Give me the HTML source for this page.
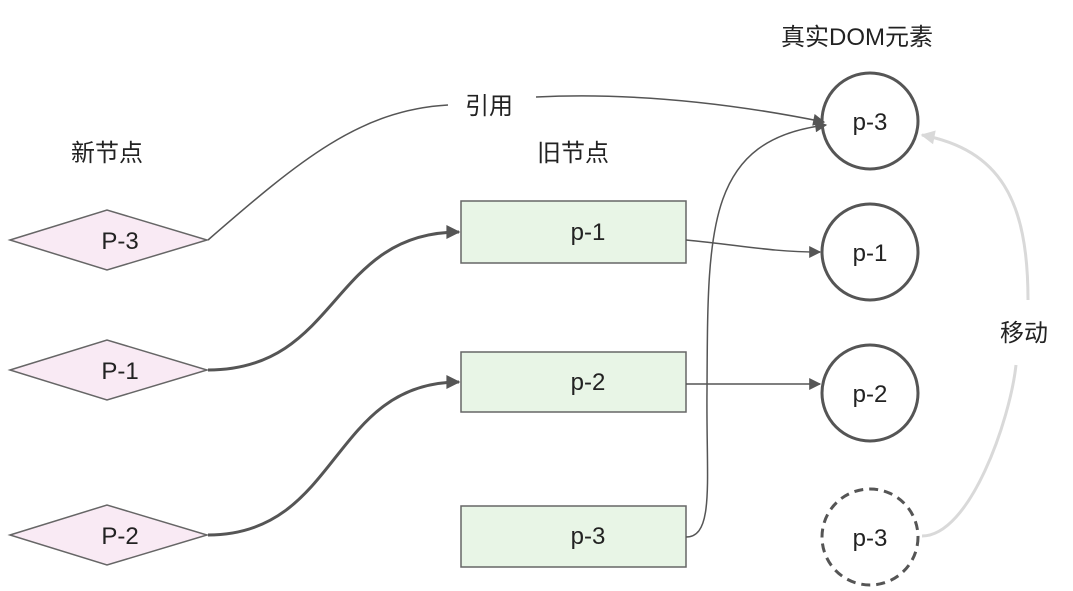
<!DOCTYPE html>
<html><head><meta charset="utf-8"><style>
html,body{margin:0;padding:0;background:#fff;}
svg{display:block;}
text{font-family:"Liberation Sans","Noto Sans CJK SC",sans-serif;fill:#222;}
</style></head><body>
<svg width="1073" height="591" viewBox="0 0 1073 591" xmlns="http://www.w3.org/2000/svg">
<defs>
<marker id="a" viewBox="0 0 10 10" refX="9" refY="5" markerWidth="14" markerHeight="12" markerUnits="userSpaceOnUse" orient="auto"><path d="M0,0L10,5L0,10z" fill="#555"/></marker>
<marker id="ab" viewBox="0 0 10 10" refX="9" refY="5" markerWidth="16" markerHeight="14" markerUnits="userSpaceOnUse" orient="auto"><path d="M0,0L10,5L0,10z" fill="#555"/></marker>
<marker id="ag" viewBox="0 0 10 10" refX="9" refY="5" markerWidth="16" markerHeight="14" markerUnits="userSpaceOnUse" orient="auto"><path d="M0,0L10,5L0,10z" fill="#d9d9d9"/></marker>
</defs>
<g font-size="24">
<text x="857" y="45" text-anchor="middle">真实DOM元素</text>
<text x="107" y="161" text-anchor="middle">新节点</text>
<text x="573" y="161" text-anchor="middle">旧节点</text>
<text x="1024" y="341" text-anchor="middle">移动</text>
<text x="489" y="114" text-anchor="middle">引用</text>
</g>
<!-- diamonds -->
<g fill="#f9eaf4" stroke="#666" stroke-width="1.5">
<polygon points="10,240 107,210 207,240 107,270"/>
<polygon points="10,370 107,340 207,370 107,400"/>
<polygon points="10,535 107,505 207,535 107,565"/>
</g>
<g font-size="24" text-anchor="middle">
<text x="120" y="249">P-3</text>
<text x="120" y="379">P-1</text>
<text x="120" y="544">P-2</text>
</g>
<!-- rects -->
<g fill="#e8f5e6" stroke="#666" stroke-width="1.5">
<rect x="461" y="201" width="225" height="62"/>
<rect x="461" y="352" width="225" height="60"/>
<rect x="461" y="506" width="225" height="61"/>
</g>
<g font-size="24" text-anchor="middle">
<text x="588" y="240">p-1</text>
<text x="588" y="390">p-2</text>
<text x="588" y="544">p-3</text>
</g>
<!-- circles -->
<g fill="#fff" stroke="#555" stroke-width="3">
<circle cx="870" cy="121" r="48"/>
<circle cx="870" cy="252" r="48"/>
<circle cx="870" cy="393" r="48"/>
<circle cx="870" cy="537" r="48" stroke-dasharray="9,6"/>
</g>
<g font-size="24" text-anchor="middle">
<text x="870" y="130">p-3</text>
<text x="870" y="261">p-1</text>
<text x="870" y="402">p-2</text>
<text x="870" y="546">p-3</text>
</g>
<!-- connectors -->
<path d="M208,240 C300,160 360,110 448,105" fill="none" stroke="#555" stroke-width="1.5"/>
<path d="M536,97 C640,92 740,105 824,122" fill="none" stroke="#555" stroke-width="1.5" marker-end="url(#a)"/>
<path d="M686,537 C715,537 706,480 707,390 C708,230 705,140 826,125" fill="none" stroke="#555" stroke-width="1.5" marker-end="url(#a)"/>
<path d="M686,240 C740,245 770,252 820,252" fill="none" stroke="#555" stroke-width="1.5" marker-end="url(#a)"/>
<path d="M686,384 C740,384 770,384 820,384" fill="none" stroke="#555" stroke-width="1.5" marker-end="url(#a)"/>
<path d="M208,370 C340,370 330,232 459,232" fill="none" stroke="#555" stroke-width="3" marker-end="url(#ab)"/>
<path d="M208,535 C340,535 330,382 459,382" fill="none" stroke="#555" stroke-width="3" marker-end="url(#ab)"/>
<path d="M922,536 C970,536 1010,420 1016,365" fill="none" stroke="#d9d9d9" stroke-width="3"/>
<path d="M1028,300 C1028,200 1000,150 922,135" fill="none" stroke="#d9d9d9" stroke-width="3" marker-end="url(#ag)"/>
</svg>
</body></html>
